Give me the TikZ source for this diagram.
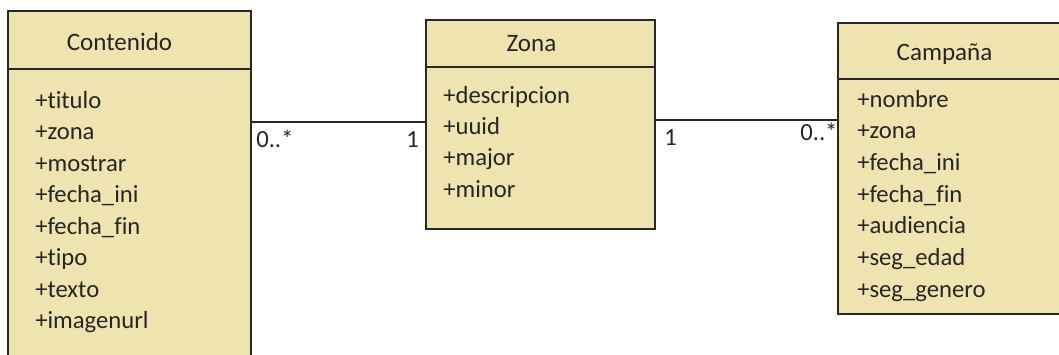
\documentclass[tikz,border=0pt]{standalone}
\usepackage{fontspec}
\setmainfont{Carlito}[Ligatures={NoCommon}]
\definecolor{classfill}{RGB}{239,228,176}
\definecolor{edge}{RGB}{40,40,40}
\definecolor{ink}{RGB}{38,38,38}
\tikzset{
  classbox/.style={draw=edge, line width=1.1pt, fill=classfill, rectangle, inner sep=0pt},
  divider/.style={draw=edge, line width=1.1pt},
  assoc/.style={draw=edge, line width=1.1pt},
  title/.style={font=\fontsize{18.8}{22}\selectfont, text=ink, inner sep=0pt, anchor=base},
  attr/.style={font=\fontsize{18.5}{22}\selectfont, text=ink, inner sep=0pt, anchor=base west},
  mult/.style={font=\fontsize{18.5}{22}\selectfont, text=ink, inner sep=0pt, anchor=base west}
}
\begin{document}
\begin{tikzpicture}[x=0.75pt,y=-0.75pt]
\useasboundingbox (0,0) rectangle (1059,354);
\clip (0,0) rectangle (1059,354);
\fill[white] (0,0) rectangle (1059,354);

% class boxes (Contenido and Campaña run past the page edge)
\node[classbox, minimum width=182.25pt, minimum height=270pt] (contenido) at (129.5,191) {};
\node[classbox, minimum width=171.75pt, minimum height=156.75pt] (zona) at (540.5,124.5) {};
\node[classbox, minimum width=187.5pt, minimum height=218.25pt] (campana) at (963,168.5) {};

% header dividers
\draw[divider] (contenido.west |- 0,69) -- (contenido.east |- 0,69);
\draw[divider] (zona.west |- 0,67) -- (zona.east |- 0,67);
\draw[divider] (campana.west |- 0,79) -- (campana.east |- 0,79);

% titles
\node[title] (tcontenido) at (119.5,50) {Contenido};
\node[title] (tzona) at (531.5,51) {Zona};
\node[title] (tcampana) at (944.5,60) {Campaña};

% attributes
\foreach \t [count=\i from 0] in {titulo,zona,mostrar,fecha\_ini,fecha\_fin,tipo,texto,imagenurl}
  \node[attr] (ca\i) at (35,108+31.5*\i) {+\t};
\foreach \t [count=\i from 0] in {descripcion,uuid,major,minor}
  \node[attr] (za\i) at (443,103+31.4*\i) {+\t};
\foreach \t [count=\i from 0] in {nombre,zona,fecha\_ini,fecha\_fin,audiencia,seg\_edad,seg\_genero}
  \node[attr] (pa\i) at (857,107+31.67*\i) {+\t};

% associations
\draw[assoc] (contenido.east |- 0,122) -- (zona.west |- 0,122);
\draw[assoc] (zona.east |- 0,120) -- (campana.west |- 0,120);

% multiplicities
\node[mult] (m1) at (256,147) {0..*};
\node[mult] (m2) at (406,147) {1};
\node[mult] (m3) at (664,145) {1};
\node[mult] (m4) at (800,140) {0..*};
\end{tikzpicture}
\end{document}
